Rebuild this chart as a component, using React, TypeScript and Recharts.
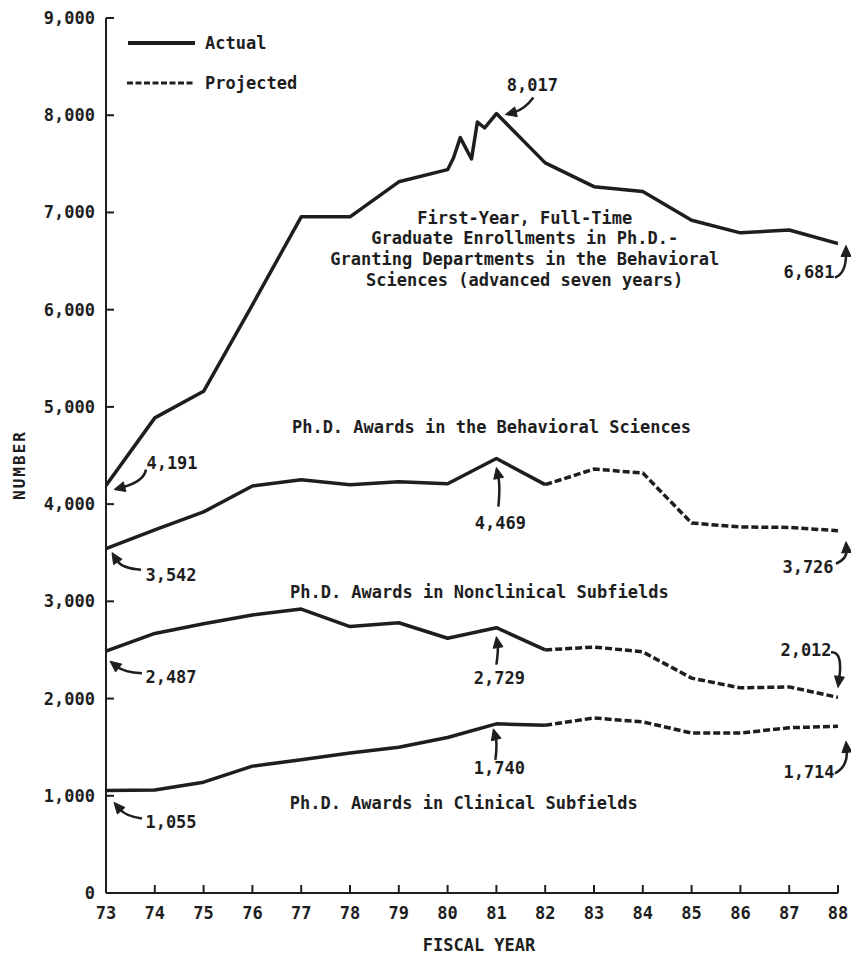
import React from 'react';
import { LineChart, Line, XAxis, YAxis, ReferenceDot, Legend } from 'recharts';

// ---- data ----
const years = [73, 74, 75, 76, 77, 78, 79, 80, 81, 82, 83, 84, 85, 86, 87, 88];
const enrollmentValues = [4191, 4887, 5160, 6050, 6955, 6955, 7315, 7440, 8017, 7510, 7265, 7215, 6920, 6790, 6820, 6681];
// the zig-zag break drawn between FY80 and FY81
const enrollmentBreakYears = [80.12, 80.26, 80.49, 80.61, 80.76];
const enrollmentBreakValues = [7560, 7770, 7550, 7930, 7870];

const actualYears = [73, 74, 75, 76, 77, 78, 79, 80, 81, 82];
const projectedYears = [82, 83, 84, 85, 86, 87, 88];

const behavioralActual = [3542, 3735, 3920, 4187, 4250, 4200, 4230, 4210, 4469, 4200];
const behavioralProjected = [4200, 4360, 4320, 3805, 3765, 3760, 3726];

const nonclinicalActual = [2487, 2670, 2770, 2860, 2920, 2740, 2780, 2620, 2729, 2500];
const nonclinicalProjected = [2500, 2530, 2480, 2210, 2110, 2120, 2012];

const clinicalActual = [1055, 1060, 1140, 1305, 1370, 1440, 1500, 1600, 1740, 1725];
const clinicalProjected = [1725, 1800, 1760, 1645, 1645, 1700, 1714];

const yTicks = [0, 1000, 2000, 3000, 4000, 5000, 6000, 7000, 8000, 9000];
const xTicks = years;

const legendLabels = ['Actual', 'Projected'];
const xAxisTitle = 'FISCAL YEAR';
const yAxisTitle = 'NUMBER';

const pointYears = [73, 73, 73, 73, 81, 88, 81, 88, 81, 88, 81, 88];
const pointValues = [4191, 3542, 2487, 1055, 8017, 6681, 4469, 3726, 2729, 2012, 1740, 1714];

const seriesTitles = [
  ['First-Year, Full-Time', 'Graduate Enrollments in Ph.D.-', 'Granting Departments in the Behavioral', 'Sciences (advanced seven years)'],
  ['Ph.D. Awards in the Behavioral Sciences'],
  ['Ph.D. Awards in Nonclinical Subfields'],
  ['Ph.D. Awards in Clinical Subfields'],
];

// ---- layout (offsets in px relative to the labelled point) ----
const arrowLayout = [
  { t: [66, -23], a: [40, -16], c: [38, -4], h: [8, 4] },
  { t: [65, 26], a: [35, 21], c: [16, 20], h: [6, 4] },
  { t: [65, 26], a: [36, 22], c: [18, 21], h: [4, 10] },
  { t: [65, 32], a: [36, 28], c: [20, 26], h: [8, 12] },
  { t: [36, -29], a: [37, -16], c: [28, -4], h: [9, 1] },
  { t: [-29, 29], a: [-3, 34], c: [8, 30], h: [8, 2] },
  { t: [4, 64], a: [2, 48], c: [4, 28], h: [0, 9] },
  { t: [-30, 36], a: [-2, 33], c: [9, 28], h: [8, 11] },
  { t: [3, 50], a: [0, 37], c: [2, 22], h: [0, 9] },
  { t: [-32, -47], a: [-7, -45], c: [5, -46], h: [0, -10] },
  { t: [3, 44], a: [-1, 36], c: [1, 20], h: [-3, 5] },
  { t: [-29, 46], a: [-3, 47], c: [10, 40], h: [8, 15] },
];
const titleAnchors = [
  { year: 81.58, value: 6944 },
  { year: 80.9, value: 4794 },
  { year: 80.65, value: 3097 },
  { year: 80.33, value: 926 },
];

const INK = '#1e1e1e';
const FONT = '"DejaVu Sans Mono", monospace';
const textStyle = { fontFamily: FONT, fontSize: 17, fontWeight: 700, fill: INK } as const;

const zip = (xs: number[], vs: number[]) => xs.map((x, i) => ({ year: x, value: vs[i] }));

const enrollmentData = [...zip(years, enrollmentValues), ...zip(enrollmentBreakYears, enrollmentBreakValues)].sort(
  (a, b) => a.year - b.year
);

const lineSeries = [
  { key: 'enroll', data: enrollmentData, dashed: false },
  { key: 'behA', data: zip(actualYears, behavioralActual), dashed: false },
  { key: 'behP', data: zip(projectedYears, behavioralProjected), dashed: true },
  { key: 'nonA', data: zip(actualYears, nonclinicalActual), dashed: false },
  { key: 'nonP', data: zip(projectedYears, nonclinicalProjected), dashed: true },
  { key: 'cliA', data: zip(actualYears, clinicalActual), dashed: false },
  { key: 'cliP', data: zip(projectedYears, clinicalProjected), dashed: true },
];

const fmt = (v: number) => v.toLocaleString('en-US');

const YTick = (props: any) => {
  const { x, y, payload } = props;
  return (
    <g>
      <line x1={x + 11} y1={y} x2={x + 19} y2={y} stroke={INK} strokeWidth={2} />
      <text x={x} y={y} dy={6} textAnchor="end" style={textStyle}>
        {fmt(payload.value)}
      </text>
    </g>
  );
};

const XTick = (props: any) => {
  const { x, y, payload } = props;
  return (
    <g>
      <line x1={x} y1={y - 10} x2={x} y2={y - 18} stroke={INK} strokeWidth={2} />
      <text x={x} y={y + 16} textAnchor="middle" style={textStyle}>
        {payload.value}
      </text>
    </g>
  );
};

const Annotation = (props: any) => {
  const { cx, cy, text, lay } = props;
  if (cx == null || cy == null) return null;
  const tx = cx + lay.a[0];
  const ty = cy + lay.a[1];
  const qx = cx + lay.c[0];
  const qy = cy + lay.c[1];
  const hx = cx + lay.h[0];
  const hy = cy + lay.h[1];
  const dx = hx - qx;
  const dy = hy - qy;
  const len = Math.hypot(dx, dy) || 1;
  const ux = dx / len;
  const uy = dy / len;
  const L = 11;
  const W = 5;
  const bx = hx - ux * L;
  const by = hy - uy * L;
  const pts = `${hx},${hy} ${bx - uy * W},${by + ux * W} ${bx + uy * W},${by - ux * W}`;
  return (
    <g>
      <path d={`M${tx},${ty} Q${qx},${qy} ${bx + ux * 2},${by + uy * 2}`} fill="none" stroke={INK} strokeWidth={2.5} />
      <polygon points={pts} fill={INK} stroke={INK} strokeWidth={1} strokeLinejoin="round" />
      <text x={cx + lay.t[0]} y={cy + lay.t[1]} dy={6} textAnchor="middle" style={textStyle}>
        {text}
      </text>
    </g>
  );
};

const TitleBlock = (props: any) => {
  const { cx, cy, lines } = props;
  if (cx == null || cy == null) return null;
  return (
    <g>
      {lines.map((l: string, i: number) => (
        <text key={i} x={cx} y={cy + i * 20.6} dy={6} textAnchor="middle" style={textStyle}>
          {l}
        </text>
      ))}
    </g>
  );
};

const renderLegend = () => (
  <svg width={220} height={62} style={{ overflow: 'visible', display: 'block' }}>
    <line x1={1} y1={10} x2={68} y2={10} stroke={INK} strokeWidth={4} />
    <text x={78} y={10} dy={6} style={textStyle}>
      {legendLabels[0]}
    </text>
    <line x1={0} y1={50} x2={68} y2={50} stroke={INK} strokeWidth={3} strokeDasharray="6 2.5" />
    <text x={78} y={50} dy={6} style={textStyle}>
      {legendLabels[1]}
    </text>
  </svg>
);

export default function App() {
  return (
    <div style={{ width: 843, height: 945, padding: 8, boxSizing: 'content-box' }}>
      <style>
        {'body{margin:0} html{overflow:hidden} .recharts-surface{overflow:visible} .recharts-wrapper{overflow:visible}'}
      </style>
      <LineChart width={843} height={945} margin={{ top: 10, right: 13, bottom: 10, left: 38 }}>
        <XAxis
          type="number"
          dataKey="year"
          domain={[73, 88]}
          ticks={xTicks}
          allowDataOverflow
          height={50}
          tickSize={0}
          tickMargin={10}
          tickLine={false}
          axisLine={{ stroke: INK, strokeWidth: 2 }}
          tick={<XTick />}
          interval={0}
          label={{
            content: (p: any) => {
              const vb = p.viewBox || {};
              return (
                <text x={vb.x + vb.width / 2 + 7} y={vb.y + 58} textAnchor="middle" style={textStyle}>
                  {xAxisTitle}
                </text>
              );
            },
          }}
        />
        <YAxis
          type="number"
          domain={[0, 9000]}
          ticks={yTicks}
          allowDataOverflow
          width={60}
          tickSize={0}
          tickMargin={11}
          tickLine={false}
          axisLine={{ stroke: INK, strokeWidth: 2 }}
          tick={<YTick />}
          interval={0}
          label={{
            content: (p: any) => {
              const vb = p.viewBox || {};
              const lx = vb.x - 27;
              const ly = vb.y + 447;
              return (
                <text
                  x={lx}
                  y={ly}
                  dy={6}
                  textAnchor="middle"
                  transform={`rotate(-90, ${lx}, ${ly})`}
                  style={{ ...textStyle, fontSize: 16, letterSpacing: 2 }}
                >
                  {yAxisTitle}
                </text>
              );
            },
          }}
        />
        <Legend
          layout="horizontal"
          verticalAlign="middle"
          align="center"
          content={renderLegend}
          wrapperStyle={{ left: 119, top: 25, width: 220, height: 62 }}
        />
        {lineSeries.map((s) => (
          <Line
            key={s.key}
            data={s.data}
            dataKey="value"
            type="linear"
            stroke={INK}
            strokeWidth={3.5}
            strokeDasharray={s.dashed ? '7 3' : undefined}
            strokeLinejoin="round"
            dot={false}
            activeDot={false}
            isAnimationActive={false}
            legendType="none"
          />
        ))}
        {titleAnchors.map((a, i) => (
          <ReferenceDot
            key={'t' + i}
            x={a.year}
            y={a.value}
            r={2}
            ifOverflow="visible"
            shape={(p: any) => <TitleBlock cx={p.cx} cy={p.cy} lines={seriesTitles[i]} />}
          />
        ))}
        {pointYears.map((yr, i) => (
          <ReferenceDot
            key={'a' + i}
            x={yr}
            y={pointValues[i]}
            r={2}
            ifOverflow="visible"
            shape={(p: any) => <Annotation cx={p.cx} cy={p.cy} text={fmt(pointValues[i])} lay={arrowLayout[i]} />}
          />
        ))}
      </LineChart>
    </div>
  );
}
